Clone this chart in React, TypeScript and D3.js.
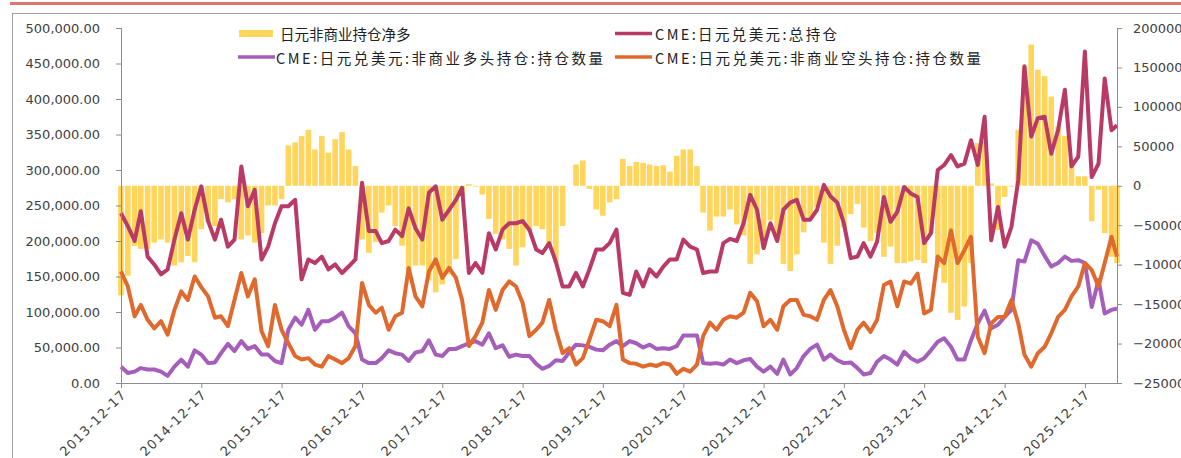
import React from 'react';
import * as d3 from 'd3';

const W = 1181;
const H = 458;

const START = '2013-12-17';
const END = '2026-05-12';

const xTickLabels = [
  '2013-12-17', '2014-12-17', '2015-12-17', '2016-12-17', '2017-12-17', '2018-12-17',
  '2019-12-17', '2020-12-17', '2021-12-17', '2022-12-17', '2023-12-17', '2024-12-17', '2025-12-17',
];
const leftTicks = [0, 50000, 100000, 150000, 200000, 250000, 300000, 350000, 400000, 450000, 500000];
const rightTicks = [-250000, -200000, -150000, -100000, -50000, 0, 50000, 100000, 150000, 200000];

const seriesNames = [
  '日元非商业持仓净多',
  'CME:日元兑美元:总持仓',
  'CME:日元兑美元:非商业多头持仓:持仓数量',
  'CME:日元兑美元:非商业空头持仓:持仓数量',
];

// values in thousands of contracts, one per month (last = latest week)
const netLongK = [
  -139, -114, -76, -80, -80, -72, -68, -72, -101, -97, -89, -97, -55, -46, -51, -17, -21, -17, -68, -63,
  -72, -60, -25, -25, -17, 51, 55, 63, 71, 46, 63, 42, 59, 68, 46, 25, -68, -85,
  -71, -34, -25, -51, -76, -108, -101, -101, -120, -135, -125, -112, -93, -13, 2, -1, -11, -42, -61, -68,
  -80, -101, -78, -58, -51, -55, -76, -97, -51, 0, 27, 32, -4, -30, -38, -21, -17,
  34, 25, 30, 29, 27, 25, 26, 18, 38, 46, 46, 25, -34, -57, -39, -39, -30, -49, -63, -99, -87, -78, -44,
  -61, -99, -108, -87, -59, -42, -27, -72, -99, -76, -53, -36, -23, -53,
  -70, -60, -90, -77, -98, -98, -96, -94, -98, -60, -104, -123, -161, -170, -153, -98, 54, 63, 3, -56,
  -14, -1, 71, 151, 179, 147, 139, 113, 75, 63, 33, 12, 12, -45, -5, -60, -90, -98,
];

const totalK = [
  239, 221, 200, 242, 178, 167, 153, 160, 202, 239, 202, 244, 277, 228, 202, 230, 192, 202, 305, 249,
  272, 174, 192, 225, 249, 249, 258, 146, 174, 169, 178, 160, 167, 155, 164, 174, 282, 214,
  214, 197, 200, 216, 207, 246, 218, 202, 268, 277, 230, 244, 258, 275, 155, 169, 155, 211, 188, 216,
  225, 225, 228, 216, 188, 183, 197, 171, 136, 136, 155, 136, 160, 188, 188, 197, 216,
  127, 124, 157, 136, 160, 150, 164, 174, 174, 202, 192, 188, 155, 157, 157, 197, 203, 200, 225, 265,
  244, 190, 225, 200, 244, 254, 258, 230, 230, 244, 279, 263, 254, 225, 176, 178, 197,
  178, 199, 262, 227, 241, 276, 267, 262, 197, 211, 300, 307, 321, 305, 309, 342, 307, 375, 201, 248,
  192, 220, 286, 446, 347, 373, 375, 323, 356, 413, 305, 319, 467, 290, 309, 429, 356, 363,
];

const longK = [
  23, 14, 16, 21, 19, 19, 16, 10, 23, 33, 23, 46, 40, 28, 29, 42, 55, 45, 59, 48,
  52, 40, 40, 31, 28, 75, 92, 82, 103, 75, 87, 87, 92, 99, 80, 70, 33, 28,
  28, 35, 46, 42, 40, 31, 43, 45, 60, 40, 38, 48, 48, 52, 56, 59, 54, 70, 49, 53,
  37, 40, 38, 38, 27, 20, 24, 32, 31, 43, 54, 53, 51, 47, 46, 54, 59,
  52, 59, 56, 50, 54, 48, 49, 48, 52, 67, 67, 67, 28, 27, 28, 26, 33, 28, 32, 34,
  23, 16, 23, 13, 33, 12, 21, 38, 48, 54, 33, 40, 32, 28, 29, 21, 12,
  14, 30, 38, 33, 26, 44, 35, 30, 35, 46, 58, 63, 51, 33, 33, 60, 84, 102, 77, 82,
  93, 103, 173, 171, 201, 196, 179, 164, 169, 178, 172, 173, 169, 107, 145, 98, 103, 105,
];

const shortK = [
  157, 136, 94, 110, 89, 77, 87, 68, 103, 129, 117, 150, 135, 122, 92, 94, 80, 117, 155, 122,
  146, 73, 52, 110, 75, 56, 38, 33, 35, 26, 23, 38, 33, 28, 35, 52, 141, 110,
  99, 106, 75, 94, 99, 162, 122, 108, 157, 174, 148, 162, 148, 117, 52, 66, 85, 131, 103, 131,
  143, 136, 113, 66, 75, 85, 117, 75, 42, 49, 26, 35, 61, 89, 87, 80, 110,
  33, 28, 27, 23, 26, 24, 28, 26, 13, 20, 16, 26, 66, 85, 75, 89, 94, 92, 99, 127,
  115, 80, 89, 75, 108, 117, 117, 96, 94, 89, 117, 131, 108, 75, 49, 75, 85,
  72, 89, 138, 143, 108, 143, 140, 154, 98, 103, 178, 169, 215, 169, 187, 206, 65, 42, 84, 93,
  93, 117, 84, 40, 23, 42, 51, 70, 93, 103, 122, 136, 169, 159, 136, 169, 206, 178,
];

const parse = d3.timeParse('%Y-%m-%d');
const startDate = parse(START) as Date;
const endDate = parse(END) as Date;
const dates: Date[] = netLongK.map((_, i) =>
  i === netLongK.length - 1 ? endDate : d3.timeMonth.offset(startDate, i)
);

const COLORS = {
  bar: '#FFD55C',
  total: '#B93A64',
  long: '#A65EBB',
  short: '#E0692E',
  axis: '#8C8C8C',
  text: '#404040',
};

const PLOT = { left: 121, right: 1117, top: 28, bottom: 383 };

export default function App() {
  const x = d3.scaleTime().domain([startDate, endDate]).range([PLOT.left, PLOT.right]);
  const yL = d3.scaleLinear().domain([0, 500000]).range([PLOT.bottom, PLOT.top]);
  const yR = d3.scaleLinear().domain([-250000, 200000]).range([PLOT.bottom, PLOT.top]);

  const step = x(d3.timeMonth.offset(startDate, 1)) - x(startDate);
  const barW = step - 1.2;

  const mk = (arr: number[]) =>
    d3
      .line<number>()
      .x((_, i) => x(dates[i]))
      .y((v) => yL(v * 1000))(arr) as string;

  const fmtL = d3.format(',.2f');
  const fmtR = d3.format('d');
  const axisFont = '"DejaVu Sans", sans-serif';
  const cjkFont = '"Noto Sans CJK SC", "Noto Sans", sans-serif';

  return (
    <svg
      width={W}
      height={H}
      style={{ position: 'absolute', left: 0, top: 0, background: '#fff' }}
    >
      <rect x={0} y={0} width={W} height={H} fill="#fff" />
      {/* top red rule and frame */}
      <line x1={10} x2={W} y1={3.5} y2={3.5} stroke="#E07474" strokeWidth={3} />
      <line x1={12} x2={W} y1={13.5} y2={13.5} stroke="#A0A0A0" strokeWidth={1} />
      <line x1={12.5} x2={12.5} y1={13.5} y2={H} stroke="#A0A0A0" strokeWidth={1} />

      {/* bars (right axis) */}
      <g>
        {netLongK.map((v, i) => {
          const y0 = yR(0);
          const y1 = yR(v * 1000);
          return (
            <rect
              key={i}
              x={x(dates[i]) - barW / 2}
              y={Math.min(y0, y1)}
              width={barW}
              height={Math.abs(y1 - y0)}
              fill={COLORS.bar}
            />
          );
        })}
      </g>

      {/* lines */}
      <path d={mk(totalK)} fill="none" stroke={COLORS.total} strokeWidth={4} strokeLinejoin="round" />
      <path d={mk(longK)} fill="none" stroke={COLORS.long} strokeWidth={4} strokeLinejoin="round" />
      <path d={mk(shortK)} fill="none" stroke={COLORS.short} strokeWidth={4} strokeLinejoin="round" />

      {/* left axis */}
      <line x1={PLOT.left + 0.5} x2={PLOT.left + 0.5} y1={PLOT.top} y2={PLOT.bottom} stroke={COLORS.axis} />
      {leftTicks.map((t) => (
        <g key={t}>
          <line x1={PLOT.left - 5} x2={PLOT.left} y1={yL(t) + 0.5} y2={yL(t) + 0.5} stroke={COLORS.axis} />
          <text
            x={100}
            y={yL(t)}
            textAnchor="end"
            dominantBaseline="central"
            fontFamily={axisFont}
            fontSize={13}
            fill={COLORS.text}
          >
            {fmtL(t)}
          </text>
        </g>
      ))}

      {/* right axis */}
      <line x1={PLOT.right + 0.5} x2={PLOT.right + 0.5} y1={PLOT.top} y2={PLOT.bottom} stroke={COLORS.axis} />
      {rightTicks.map((t) => (
        <g key={t}>
          <line x1={PLOT.right} x2={PLOT.right + 5} y1={yR(t) + 0.5} y2={yR(t) + 0.5} stroke={COLORS.axis} />
          <text
            x={1133}
            y={yR(t)}
            textAnchor="start"
            dominantBaseline="central"
            fontFamily={axisFont}
            fontSize={13}
            fill={COLORS.text}
          >
            {fmtR(t)}
          </text>
        </g>
      ))}

      {/* x axis */}
      <line x1={PLOT.left} x2={PLOT.right} y1={PLOT.bottom + 0.5} y2={PLOT.bottom + 0.5} stroke={COLORS.axis} />
      {xTickLabels.map((s) => {
        const xx = x(parse(s) as Date);
        return (
          <g key={s}>
            <line x1={xx + 0.5} x2={xx + 0.5} y1={PLOT.bottom} y2={PLOT.bottom + 5} stroke={COLORS.axis} />
            <text
              transform={`translate(${xx + 3},${PLOT.bottom + 9}) rotate(-45)`}
              textAnchor="end"
              dominantBaseline="central"
              fontFamily={axisFont}
              fontSize={13}
              letterSpacing={1.2}
              fill={COLORS.text}
            >
              {s}
            </text>
          </g>
        );
      })}

      {/* legend */}
      <g fontFamily={cjkFont} fontSize={14.5} fill="#222">
        <rect x={239} y={30} width={34} height={7} fill={COLORS.bar} />
        <text x={280} y={33.5} dominantBaseline="central">{seriesNames[0]}</text>
        <line x1={615} x2={652} y1={33.5} y2={33.5} stroke={COLORS.total} strokeWidth={3.5} />
        <text x={655} y={33.5} dominantBaseline="central" textLength={182} lengthAdjust="spacing">
          {seriesNames[1]}
        </text>
        <line x1={238} x2={275} y1={57} y2={57} stroke={COLORS.long} strokeWidth={3.5} />
        <text x={276} y={57} dominantBaseline="central" textLength={327} lengthAdjust="spacing">
          {seriesNames[2]}
        </text>
        <line x1={615} x2={652} y1={57} y2={57} stroke={COLORS.short} strokeWidth={3.5} />
        <text x={655} y={57} dominantBaseline="central" textLength={326} lengthAdjust="spacing">
          {seriesNames[3]}
        </text>
      </g>
    </svg>
  );
}
